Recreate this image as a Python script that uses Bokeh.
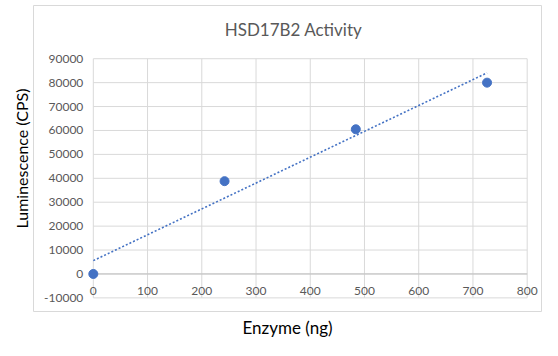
from bokeh.plotting import figure
from bokeh.models import Range1d, Title
from bokeh.embed import file_html
from bokeh.resources import INLINE
import numpy as np

# ---- data ----
enzyme_ng = [0, 242, 484, 726]
luminescence_cps = [0, 38800, 60500, 80000]
x_ticks = [0, 100, 200, 300, 400, 500, 600, 700, 800]
y_ticks = [-10000, 0, 10000, 20000, 30000, 40000, 50000, 60000, 70000, 80000, 90000]
x_tick_labels = [str(v) for v in x_ticks]
y_tick_labels = [str(v) for v in y_ticks]
chart_title = "HSD17B2 Activity"
x_title = "Enzyme (ng)"
y_title = "Luminescence (CPS)"

FONT = "Lato"
BLUE = "#4472C4"
GRID = "#d9d9d9"
AXIS = "#bfbfbf"
GRAY_TXT = "#595959"

# frame = Excel chart area; ranges padded so the plot area sits inside it
X0, X1 = -110.3, 826.4
Y0, Y1 = -15700, 112260

p = figure(width=542, height=340, output_backend="svg", toolbar_location=None,
           x_range=Range1d(X0, X1), y_range=Range1d(Y0, Y1),
           min_border_left=33, min_border_right=1,
           min_border_top=5, min_border_bottom=27,
           background_fill_color="white", border_fill_color="white")
p.outline_line_color = GRID
p.axis.visible = False
p.grid.visible = False

xmin, xmax = x_ticks[0], x_ticks[-1]
ymin, ymax = y_ticks[0], y_ticks[-1]

# gridlines of the plot area
p.segment(x0=[xmin] * len(y_ticks), x1=[xmax] * len(y_ticks), y0=y_ticks, y1=y_ticks,
          line_color=GRID, line_width=1)
p.segment(x0=x_ticks, x1=x_ticks, y0=[ymin] * len(x_ticks), y1=[ymax] * len(x_ticks),
          line_color=GRID, line_width=1)
# horizontal axis line at y = 0
p.segment(x0=[xmin], x1=[xmax], y0=[0], y1=[0], line_color=AXIS, line_width=1)

# tick labels
p.text(x=[0] * len(y_ticks), y=y_ticks, text=y_tick_labels, x_offset=-10,
       text_align="right", text_baseline="middle", text_font={"value": FONT},
       text_font_size="12px", text_color=GRAY_TXT)
p.text(x=x_ticks, y=[0] * len(x_ticks), text=x_tick_labels, y_offset=17,
       text_align="center", text_baseline="middle", text_font={"value": FONT},
       text_font_size="12px", text_color=GRAY_TXT)

# chart title (centred in the chart area)
p.text(x=[(X0 + X1) / 2], y=[Y1], text=[chart_title], x_offset=6, y_offset=24,
       text_align="center", text_baseline="middle", text_font={"value": FONT},
       text_font_size="17px", text_color=GRAY_TXT)

# axis titles outside the chart area
p.add_layout(Title(text=x_title, align="center", offset=-33, text_font=FONT,
                   text_font_size="17px", text_font_style="normal",
                   text_color="black", standoff=6), "below")
p.add_layout(Title(text=y_title, align="center", offset=-3, text_font=FONT,
                   text_font_size="16px", text_font_style="normal",
                   text_color="black", standoff=6), "left")

# linear trendline (least squares fit of the data)
slope, intercept = np.polyfit(enzyme_ng, luminescence_cps, 1)
tx = [min(enzyme_ng), max(enzyme_ng)]
ty = [intercept + slope * v for v in tx]
p.line(tx, ty, line_color=BLUE, line_width=1.6, line_dash="2 2")

# data points
p.scatter(enzyme_ng, luminescence_cps, size=9, fill_color=BLUE, line_color=BLUE)

open("out.html", "w").write(file_html(p, INLINE))
